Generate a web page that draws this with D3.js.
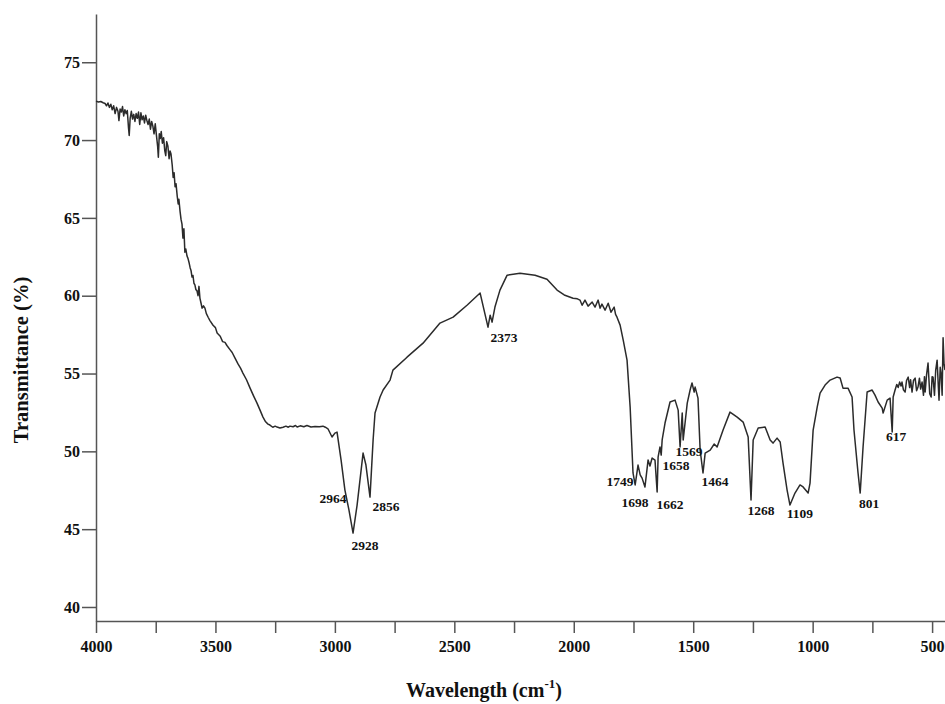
<!DOCTYPE html>
<html>
<head>
<meta charset="utf-8">
<script src="https://cdn.jsdelivr.net/npm/d3@7"></script>
<style>
  body { margin: 0; background: #fff; }
  text { font-family: "Liberation Serif", "Times New Roman", serif; font-weight: bold; fill: #111; }
</style>
</head>
<body>
<script>
// spectrum: wavenumber (cm-1) and transmittance (%)
var wavenumbers = [
  4000,3990,3980,3970,3962,3956,3950,3944,3938,3932,
  3926,3920,3914,3908,3904,3899,3894,3889,3884,3879,
  3874,3869,3864,3861,3857,3852,3847,3842,3837,3832,
  3827,3822,3817,3812,3807,3802,3797,3792,3787,3782,
  3777,3772,3767,3762,3757,3752,3747,3742,3739,3735,
  3731,3727,3722,3717,3712,3708,3704,3699,3694,3690,
  3686,3681,3677,3673,3669,3665,3660,3656,3653,3648,
  3644,3640,3636,3632,3628,3624,3619,3615,3610,3606,
  3602,3598,3594,3590,3586,3582,3577,3573,3569,3565,
  3560,3556,3550,3544,3538,3530,3523,3510,3500,3493,
  3480,3470,3460,3452,3440,3430,3418,3405,3395,3385,
  3370,3355,3340,3326,3312,3301,3290,3280,3272,3260,
  3250,3242,3230,3217,3205,3195,3188,3175,3165,3158,
  3145,3130,3117,3100,3083,3065,3050,3040,3029,3012,
  3000,2991,2974,2958,2941,2924,2907,2882,2870,2853,
  2840,2832,2811,2798,2769,2757,2698,2631,2560,2505,
  2447,2392,2359,2350,2342,2330,2309,2279,2225,2162,
  2112,2070,2040,2003,1985,1974,1965,1953,1940,1923,
  1911,1898,1890,1882,1869,1856,1844,1831,1825,1819,
  1806,1793,1777,1764,1752,1743,1731,1722,1714,1702,
  1689,1681,1672,1660,1651,1647,1639,1634,1630,1618,
  1597,1576,1563,1555,1546,1542,1525,1513,1505,1496,
  1492,1480,1471,1459,1450,1429,1412,1400,1375,1346,
  1316,1291,1270,1258,1249,1228,1199,1178,1166,1149,
  1136,1124,1107,1095,1074,1053,1040,1019,1011,998,
  981,969,948,927,898,885,873,852,835,827,
  810,801,789,772,751,739,726,709,705,688,
  676,667,663,655,648,642,636,630,626,620,
  613,607,600,594,590,584,578,571,565,559,
  553,548,542,536,532,529,523,517,510,504,
  500,496,490,485,479,474,471,466,462,458,
  454,450,446];
var transmittance = [
  72.50,72.45,72.48,72.40,72.35,72.20,72.38,72.10,72.30,71.95,
  72.20,71.70,72.10,71.85,71.25,72.00,71.80,72.15,71.55,71.95,
  71.70,71.90,70.80,70.30,71.40,71.85,71.35,71.65,71.20,71.70,
  71.40,71.80,71.00,71.75,71.30,71.55,71.10,71.60,71.25,71.00,
  71.35,70.70,71.20,70.90,70.40,71.05,70.30,69.60,68.90,70.40,
  70.10,70.55,69.80,70.15,69.30,69.00,69.90,69.60,68.80,69.30,
  69.10,68.40,67.60,67.90,67.00,67.20,66.40,65.90,66.20,65.40,
  64.90,64.60,63.70,64.30,62.80,63.00,62.55,62.40,62.10,61.80,
  61.60,61.20,61.30,60.80,60.70,60.40,60.30,60.00,60.60,59.85,
  59.50,59.20,59.35,59.20,58.85,58.60,58.40,58.10,57.95,57.60,
  57.40,57.05,57.00,56.80,56.55,56.35,55.99,55.60,55.35,55.03,
  54.60,54.06,53.55,53.10,52.60,52.20,51.90,51.75,51.69,51.55,
  51.62,51.56,51.50,51.55,51.62,51.55,51.62,51.58,51.66,51.56,
  51.64,51.58,51.66,51.56,51.60,51.58,51.62,51.55,51.45,50.92,
  51.17,51.24,49.44,47.51,46.23,44.75,46.55,49.89,49.12,47.06,
  50.73,52.46,53.49,53.94,54.58,55.22,56.05,56.95,58.24,58.62,
  59.39,60.17,57.98,58.75,58.30,59.27,60.36,61.32,61.45,61.32,
  61.06,60.36,60.05,59.84,59.80,59.72,59.39,59.72,59.33,59.59,
  59.27,59.72,59.20,59.46,59.07,59.52,58.94,59.27,58.80,58.62,
  58.11,57.15,55.86,52.84,48.61,47.84,49.12,48.49,48.28,47.71,
  49.44,49.06,49.57,49.44,47.39,49.63,50.28,49.76,50.73,51.82,
  53.17,53.29,52.65,50.28,52.46,50.73,53.10,53.94,54.39,53.81,
  54.13,53.42,50.08,48.61,49.89,50.08,50.47,50.28,51.37,52.52,
  52.20,51.88,50.92,46.87,50.73,51.50,51.56,50.73,50.53,50.85,
  50.60,49.25,47.51,46.55,47.32,47.84,47.71,47.32,47.96,51.37,
  52.84,53.74,54.26,54.58,54.77,54.71,54.06,54.06,53.49,51.37,
  48.61,47.32,50.28,53.81,53.94,53.61,53.17,52.78,52.46,53.29,
  53.42,51.24,53.49,53.94,54.30,54.10,54.45,54.20,54.45,53.95,
  53.81,54.55,54.77,54.10,54.60,53.81,54.55,54.71,53.90,54.13,
  54.70,54.00,54.45,53.60,54.80,53.81,54.95,55.67,53.70,53.49,
  54.80,54.77,53.60,55.20,55.86,54.20,53.29,55.40,54.97,53.60,
  57.30,55.60,55.22];

// peak annotations: text, and where the label sits (wavenumber, transmittance)
var peakLabels = ["2964","2928","2856","2373","1749","1698","1662","1658","1569","1464","1268","1109","801","617"];
var peakLabelWn = [3008,2874,2786,2292,1807,1744,1597,1572,1518,1409,1216,1053,764,651];
var peakLabelT = [46.68,43.66,46.17,57.02,47.77,46.42,46.29,48.80,49.70,47.77,45.91,45.72,46.36,50.66];

var xTicks = [4000,3750,3500,3250,3000,2750,2500,2250,2000,1750,1500,1250,1000,750,500];
var yTicks = [40,45,50,55,60,65,70,75];

var width = 945;
var height = 704;

var svg = d3.select("body").append("svg")
  .attr("width", width)
  .attr("height", height);

var x = d3.scaleLinear().domain([4000, 446]).range([96, 945]);
var y = d3.scaleLinear().domain([39.1, 78.1]).range([621, 14]);

var xAxis = d3.axisBottom(x)
  .tickValues(xTicks)
  .tickSize(12)
  .tickSizeOuter(0)
  .tickPadding(8)
  .tickFormat(function(d){ return d % 500 === 0 ? d : ""; });

var gx = svg.append("g")
  .attr("transform", "translate(0," + y.range()[0] + ")")
  .call(xAxis);

var yAxis = d3.axisLeft(y)
  .tickValues(yTicks)
  .tickSize(14)
  .tickSizeOuter(0)
  .tickPadding(2);

var gy = svg.append("g")
  .attr("transform", "translate(" + x.range()[0] + ",0)")
  .call(yAxis);

[gx, gy].forEach(function(g){
  g.select(".domain").attr("stroke", "#555").attr("stroke-width", 1.5);
  g.selectAll(".tick line").attr("stroke", "#555").attr("stroke-width", 1.5);
  g.selectAll(".tick text")
    .attr("font-family", "Liberation Serif, Times New Roman, serif")
    .attr("font-weight", "bold")
    .attr("font-size", "16px")
    .attr("fill", "#222");
});

if (wavenumbers.length !== transmittance.length) console.log("length mismatch");
var points = wavenumbers.map(function(w, i){ return [w, transmittance[i]]; });

var line = d3.line()
  .x(function(d){ return x(d[0]); })
  .y(function(d){ return y(d[1]); });

svg.append("path")
  .datum(points)
  .attr("d", line)
  .attr("fill", "none")
  .attr("stroke", "#2b2b2b")
  .attr("stroke-width", 1.5)
  .attr("stroke-linejoin", "round");

svg.selectAll("text.peak")
  .data(peakLabels)
  .enter()
  .append("text")
  .attr("class", "peak")
  .text(function(d){ return d; })
  .attr("x", function(d, i){ return x(peakLabelWn[i]); })
  .attr("y", function(d, i){ return y(peakLabelT[i]); })
  .attr("text-anchor", "middle")
  .attr("font-size", "13.5px");

// axis titles
var xTitle = svg.append("text")
  .attr("x", 484)
  .attr("y", 697)
  .attr("text-anchor", "middle")
  .attr("font-size", "20px");
xTitle.append("tspan").text("Wavelength (cm");
xTitle.append("tspan").text("-1").attr("font-size", "13px").attr("dy", "-9");
xTitle.append("tspan").text(")").attr("dy", "9");

svg.append("text")
  .attr("transform", "translate(28,360) rotate(-90)")
  .attr("text-anchor", "middle")
  .attr("font-size", "20.5px")
  .text("Transmittance (%)");
</script>
</body>
</html>
